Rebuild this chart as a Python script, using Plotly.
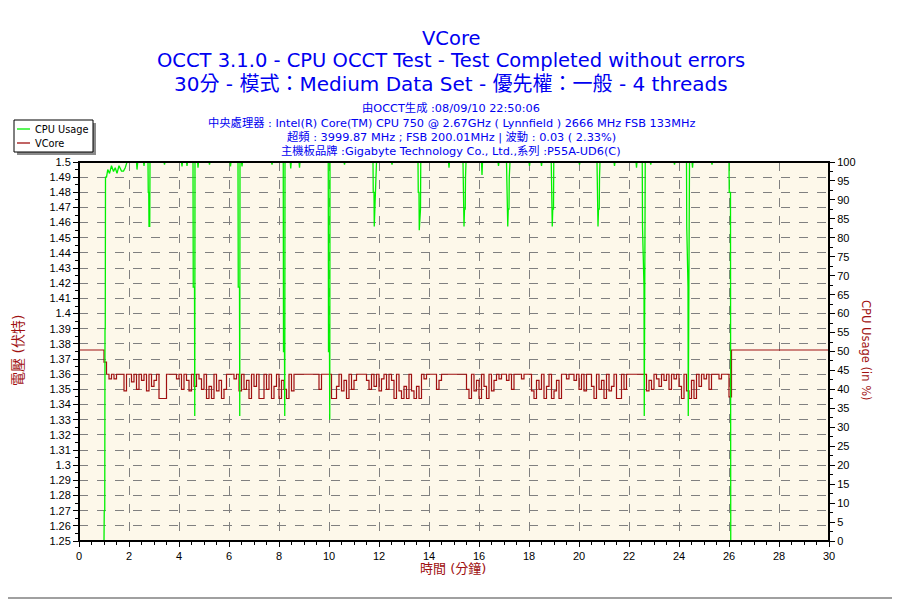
import numpy as np
import plotly.graph_objects as go

# ---------------- data ----------------
# VCore (V): idle before the test, sampled every 0.1 min during the test, idle after
vcore_idle_start_t = [0.0]
vcore_idle_start_v = [1.376]
vcore_test_t = list(np.round(np.arange(1.0, 26.01, 0.1), 2))
vcore_test_v = [
    1.368, 1.360, 1.357, 1.360, 1.357, 1.360, 1.360, 1.360, 1.349, 1.360,  # 1.x
    1.360, 1.355, 1.360, 1.350, 1.360, 1.356, 1.360, 1.349, 1.360, 1.352,  # 2.x
    1.356, 1.360, 1.344, 1.344, 1.344, 1.360, 1.360, 1.360, 1.360, 1.357,  # 3.x
    1.360, 1.350, 1.360, 1.356, 1.349, 1.360, 1.352, 1.360, 1.357, 1.350,  # 4.x
    1.360, 1.344, 1.352, 1.344, 1.360, 1.349, 1.356, 1.344, 1.350, 1.360,  # 5.x
    1.360, 1.360, 1.357, 1.360, 1.349, 1.360, 1.350, 1.356, 1.344, 1.360,  # 6.x
    1.352, 1.360, 1.344, 1.344, 1.360, 1.350, 1.360, 1.344, 1.352, 1.360,  # 7.x
    1.344, 1.356, 1.350, 1.344, 1.360, 1.349, 1.360, 1.360, 1.360, 1.360,  # 8.x
    1.360, 1.360, 1.360, 1.360, 1.360, 1.360, 1.350, 1.360, 1.360, 1.360,  # 9.x
    1.360, 1.344, 1.344, 1.352, 1.360, 1.349, 1.356, 1.344, 1.360, 1.350,  # 10.x
    1.356, 1.360, 1.360, 1.360, 1.360, 1.356, 1.350, 1.360, 1.352, 1.360,  # 11.x
    1.349, 1.357, 1.360, 1.350, 1.360, 1.356, 1.344, 1.360, 1.349, 1.344,  # 12.x
    1.352, 1.344, 1.360, 1.349, 1.344, 1.352, 1.344, 1.360, 1.357, 1.360,  # 13.x
    1.360, 1.360, 1.360, 1.350, 1.356, 1.360, 1.360, 1.360, 1.360, 1.360,  # 14.x
    1.360, 1.360, 1.360, 1.360, 1.360, 1.350, 1.344, 1.360, 1.349, 1.356,  # 15.x
    1.344, 1.360, 1.352, 1.344, 1.360, 1.349, 1.356, 1.360, 1.357, 1.360,  # 16.x
    1.360, 1.356, 1.360, 1.350, 1.360, 1.360, 1.360, 1.357, 1.360, 1.360,  # 17.x
    1.360, 1.349, 1.344, 1.356, 1.350, 1.360, 1.344, 1.352, 1.360, 1.344,  # 18.x
    1.349, 1.356, 1.344, 1.360, 1.360, 1.357, 1.360, 1.360, 1.356, 1.360,  # 19.x
    1.350, 1.360, 1.349, 1.360, 1.360, 1.352, 1.344, 1.360, 1.350, 1.356,  # 20.x
    1.344, 1.360, 1.349, 1.352, 1.360, 1.344, 1.344, 1.360, 1.350, 1.360,  # 21.x
    1.360, 1.360, 1.360, 1.360, 1.360, 1.360, 1.360, 1.349, 1.356, 1.350,  # 22.x
    1.360, 1.357, 1.352, 1.360, 1.356, 1.360, 1.350, 1.360, 1.357, 1.360,  # 23.x
    1.352, 1.344, 1.360, 1.349, 1.344, 1.356, 1.344, 1.360, 1.352, 1.360,  # 24.x
    1.357, 1.360, 1.350, 1.360, 1.360, 1.360, 1.357, 1.360, 1.360, 1.360,  # 25.x
    1.345,                                                                 # 26.0
]
vcore_idle_end_t = [26.1, 30.0]
vcore_idle_end_v = [1.376, 1.376]

vcore_t = vcore_idle_start_t + vcore_test_t + vcore_idle_end_t
vcore_v = vcore_idle_start_v + vcore_test_v + vcore_idle_end_v

# CPU usage (%)
cpu_t = [0.00, 1.00, 1.01, 1.03, 1.04, 1.05, 1.06, 1.10, 1.15, 1.22, 1.30, 1.38, 1.45, 1.52, 1.60,
         1.70, 1.78, 1.85, 1.92, 2.30, 2.32, 2.35, 2.58, 2.60, 2.62,
         2.76, 2.77, 2.79, 2.80, 2.83, 2.84, 3.40, 3.42, 3.44, 4.10, 4.12, 4.14, 4.30, 4.32, 4.34,
         4.56, 4.57, 4.62, 4.63, 4.64, 4.74, 4.76, 4.78, 5.20, 5.22, 5.24, 6.04, 6.06, 6.08,
         6.36, 6.37, 6.42, 6.43, 6.44, 6.50, 6.52, 6.54, 7.70, 7.72, 7.74,
         8.17, 8.18, 8.22, 8.23, 8.24, 8.45, 8.47, 8.49, 8.80, 8.82, 8.84,
         9.97, 9.98, 10.02, 10.03, 10.04, 10.60, 10.62, 10.64,
         11.76, 11.77, 11.80, 11.81, 11.83, 11.86, 11.87, 11.90, 12.50, 12.52, 12.54,
         13.56, 13.57, 13.60, 13.61, 13.63, 13.66, 13.67, 14.78, 14.80, 14.82,
         15.36, 15.37, 15.39, 15.40, 15.42, 15.45, 15.46, 15.48, 16.10, 16.12, 16.14,
         16.76, 16.78, 16.80,
         17.10, 17.11, 17.14, 17.15, 17.17, 17.20, 17.21, 17.24, 18.00, 18.02, 18.04,
         18.48, 18.50, 18.52,
         18.89, 18.90, 18.92, 18.93, 18.95, 18.98, 18.99, 20.00, 20.02, 20.04,
         20.72, 20.73, 20.75, 20.76, 20.78, 20.81, 20.82, 20.84, 21.40, 21.42, 21.44,
         22.28, 22.30, 22.32,
         22.53, 22.54, 22.60, 22.61, 22.65, 22.85, 22.87, 22.89, 23.80, 23.82, 23.84,
         24.30, 24.31, 24.36, 24.37, 24.42, 24.52, 24.54, 24.56, 25.30, 25.32, 25.34,
         26.00, 26.01, 26.06, 26.07, 30.00]
cpu_v = [0, 0, 8, 8, 56, 56, 96, 96, 98, 97, 99, 97.5, 98.5, 97, 99,
         97.6, 97.6, 98.5, 100, 100, 98, 100, 100, 99, 100,
         100, 92, 92, 83, 83, 100, 100, 99.3, 100, 100, 98.8, 100, 100, 99, 100,
         100, 67, 67, 33, 100, 100, 98.5, 100, 100, 99.3, 100, 100, 98.8, 100,
         100, 67, 67, 33, 100, 100, 98.8, 100, 100, 99.3, 100,
         100, 50, 50, 33, 100, 100, 98.3, 100, 100, 98.5, 100,
         100, 50, 50, 32, 100, 100, 99.3, 100,
         100, 92, 92, 83, 87.6, 87.6, 96, 100, 100, 99.3, 100,
         100, 92, 92, 82, 87.6, 87.6, 100, 100, 98.5, 100,
         100, 92, 92, 83, 87.6, 87.6, 96, 100, 100, 96.6, 100,
         100, 99, 100,
         100, 92, 92, 83, 87.6, 87.6, 96, 100, 100, 99, 100,
         100, 99, 100,
         100, 92, 92, 83, 87.6, 87.6, 100, 100, 99.3, 100,
         100, 92, 92, 83, 87.6, 87.6, 96, 100, 100, 99, 100,
         100, 98.5, 100,
         100, 83, 67, 33, 100, 100, 99.3, 100, 100, 99.3, 100,
         100, 83, 67, 33, 100, 100, 98.5, 100, 100, 99.3, 100,
         100, 92, 92, 0, 0]

x_ticks = list(range(0, 31, 2))
series_names = ["CPU Usage", "VCore"]

title_lines = ["VCore",
               "OCCT 3.1.0 - CPU OCCT Test - Test Completed without errors",
               "30分 - 模式：Medium Data Set - 優先權：一般 - 4 threads"]
info_lines = ["由OCCT生成 :08/09/10 22:50:06",
              "中央處理器 : Intel(R) Core(TM) CPU 750 @ 2.67GHz ( Lynnfield ) 2666 MHz FSB 133MHz",
              "超頻 : 3999.87 MHz ; FSB 200.01MHz | 波動 : 0.03 ( 2.33%)",
              "主機板品牌 :Gigabyte Technology Co., Ltd.,系列 :P55A-UD6(C)"]

# ---------------- figure ----------------
FONT = "DejaVu Sans, Noto Sans CJK TC, sans-serif"
TICKFONT = "Liberation Sans, Arial, sans-serif"
BLUE = "#0000F0"
DARKRED = "#A01010"
GREEN = "#00F000"
# the page body has an 8px margin, so the figure is 8px smaller than the window
W, H = 892, 592
L, T = 71, 154
PW, PH = 750, 379
R, B = W - L - PW, H - T - PH


def px(x):  # window pixel -> paper x
    return (x - 8 - L) / PW


def py(y):  # window pixel -> paper y
    return (H - B - (y - 8)) / PH


fig = go.Figure()
fig.add_trace(go.Scatter(x=cpu_t, y=cpu_v, name=series_names[0], mode="lines",
                         line=dict(color=GREEN, width=1.3), yaxis="y2", showlegend=False))
fig.add_trace(go.Scatter(x=vcore_t, y=vcore_v, name=series_names[1], mode="lines",
                         line=dict(color=DARKRED, width=1.2, shape="hv"), yaxis="y",
                         showlegend=False))

annots = []
title_sizes = [19.5, 19.5, 20]
for txt, yy, sz in zip(title_lines, [38, 61, 84], title_sizes):
    annots.append(dict(text=txt, x=px(451), y=py(yy), xref="paper", yref="paper",
                       showarrow=False, xanchor="center", yanchor="middle",
                       font=dict(family=FONT, size=sz, color=BLUE)))
for txt, yy in zip(info_lines, [108.5, 122.5, 136.5, 150.5]):
    annots.append(dict(text=txt, x=px(451), y=py(yy), xref="paper", yref="paper",
                       showarrow=False, xanchor="center", yanchor="middle",
                       font=dict(family=FONT, size=11.3, color=BLUE)))
annots.append(dict(text="電壓 (伏特)", x=px(18), y=py(351), xref="paper", yref="paper",
                   showarrow=False, textangle=-90, xanchor="center", yanchor="middle",
                   font=dict(family=FONT, size=14, color=DARKRED)))
annots.append(dict(text="CPU Usage (in %)", x=px(866), y=py(351), xref="paper", yref="paper",
                   showarrow=False, textangle=90, xanchor="center", yanchor="middle",
                   font=dict(family=FONT, size=11.5, color=DARKRED)))
annots.append(dict(text="時間 (分鐘)", x=px(453), y=py(568), xref="paper", yref="paper",
                   showarrow=False, xanchor="center", yanchor="middle",
                   font=dict(family=FONT, size=13, color=DARKRED)))

# legend box (drawn as a framed key in the top-left corner)
for name, yy in zip(series_names, [129, 143]):
    annots.append(dict(text=name, x=px(33), y=py(yy), xref="paper", yref="paper",
                       showarrow=False, xanchor="left", yanchor="middle",
                       font=dict(family=FONT, size=9.8, color="black")))

shapes = [
    # legend drop shadow + box
    dict(type="rect", xref="paper", yref="paper", x0=px(17), x1=px(96), y0=py(155), y1=py(123),
         fillcolor="#8A8A8A", line=dict(width=0), layer="above"),
    dict(type="rect", xref="paper", yref="paper", x0=px(14), x1=px(93), y0=py(152), y1=py(120),
         fillcolor="white", line=dict(color="black", width=1), layer="above"),
    dict(type="line", xref="paper", yref="paper", x0=px(17), x1=px(30), y0=py(129), y1=py(129),
         line=dict(color=GREEN, width=1.3), layer="above"),
    dict(type="line", xref="paper", yref="paper", x0=px(17), x1=px(30), y0=py(143), y1=py(143),
         line=dict(color=DARKRED, width=1.3), layer="above"),
    # black frame of the plotting area (covers lines lying on the border)
    dict(type="rect", xref="paper", yref="paper", x0=0, x1=1, y0=0, y1=1,
         line=dict(color="black", width=2), layer="above"),
    # bottom window border
    dict(type="line", xref="paper", yref="paper", x0=px(0), x1=px(900), y0=py(598), y1=py(598),
         line=dict(color="#A0A0A0", width=2)),
]

axis_font = dict(family=TICKFONT, size=11, color="black")
fig.update_layout(
    width=W, height=H,
    margin=dict(l=L, r=R, t=T, b=B, pad=0),
    paper_bgcolor="white", plot_bgcolor="#FDF8EA",
    showlegend=False,
    annotations=annots,
    shapes=shapes,
    xaxis=dict(range=[0, 30], tickvals=x_ticks, showgrid=True, gridcolor="#808080",
               griddash="dash", gridwidth=1, zeroline=False,
               showline=True, linecolor="black", linewidth=1, mirror=True,
               ticks="outside", ticklen=5, tickcolor="black", tickfont=axis_font,
               minor=dict(dtick=0.5, ticks="outside", ticklen=3, tickcolor="black", showgrid=False)),
    yaxis=dict(range=[1.25, 1.5], dtick=0.01, tick0=1.25, showgrid=True, gridcolor="#808080",
               griddash="dash", gridwidth=1, zeroline=False,
               showline=True, linecolor="black", linewidth=1,
               ticks="outside", ticklen=5, tickcolor="black", tickfont=axis_font,
               tickformat="~g",
               minor=dict(dtick=0.005, ticks="outside", ticklen=3, tickcolor="black", showgrid=False)),
    yaxis2=dict(range=[0, 100], dtick=5, tick0=0, overlaying="y", side="right",
                showgrid=False, zeroline=False,
                showline=True, linecolor="black", linewidth=1,
                ticks="outside", ticklen=5, tickcolor="black", tickfont=axis_font,
                minor=dict(dtick=2.5, ticks="outside", ticklen=3, tickcolor="black")),
)

fig.write_html("out.html")
